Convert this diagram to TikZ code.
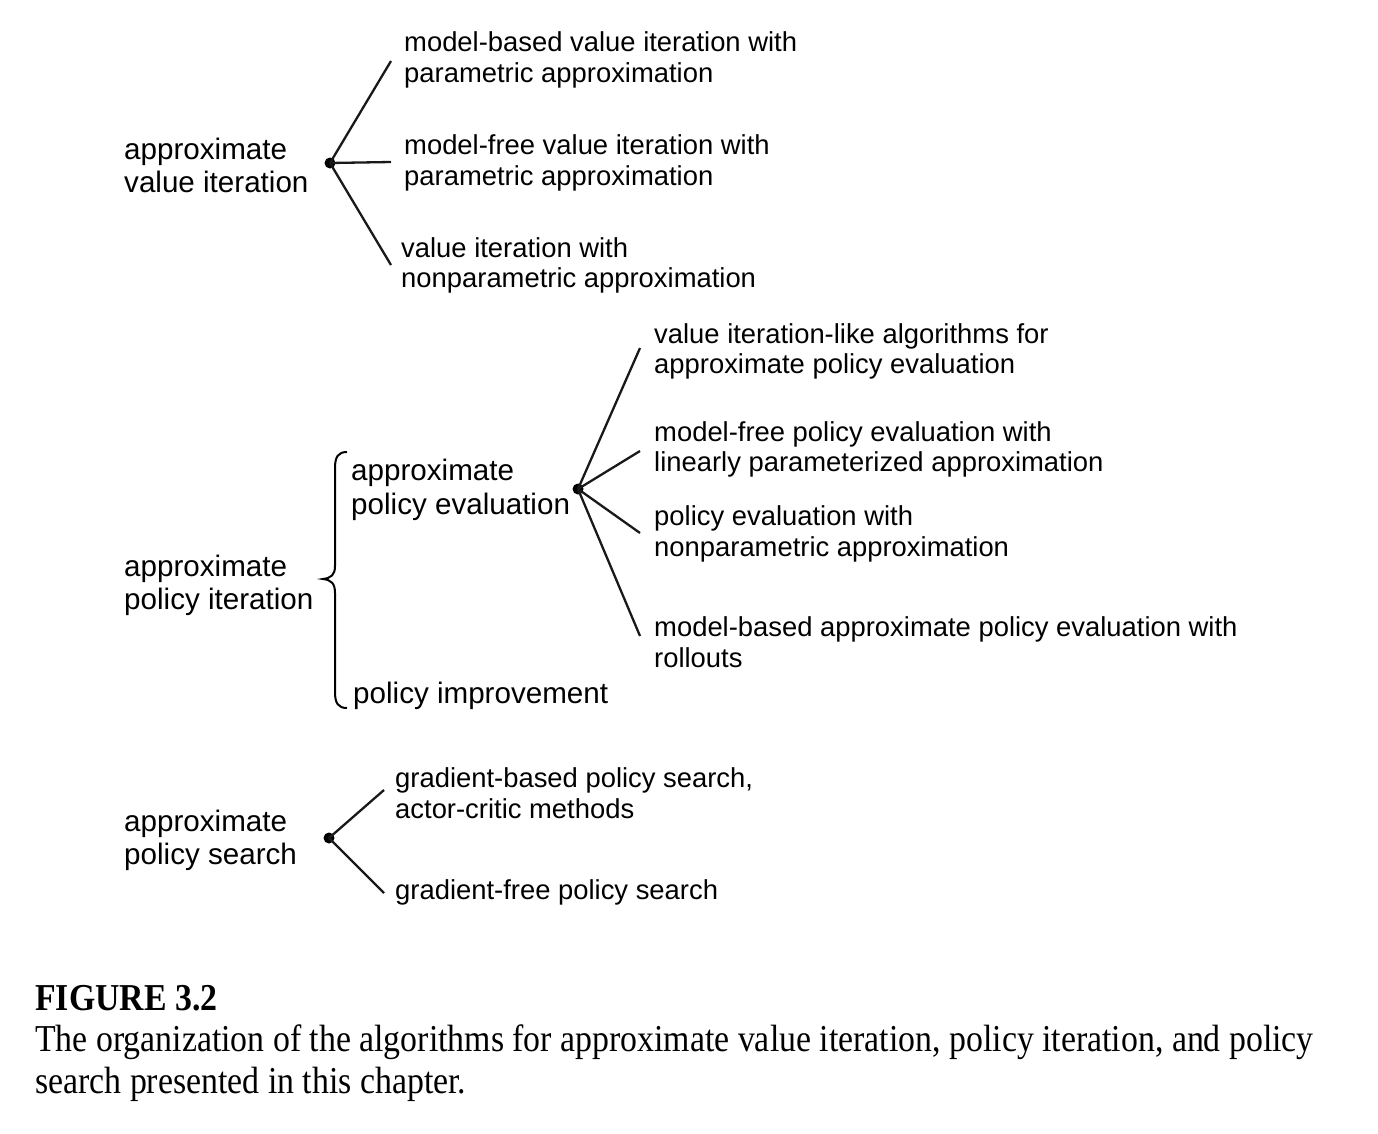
\documentclass[tikz,border=0pt]{standalone}
\usepackage{fontspec}
\setmainfont{Liberation Sans}
\newfontfamily\capfont[FakeStretch=0.89]{Liberation Serif}
\begin{document}
\begin{tikzpicture}[x=1pt,y=-1pt,
  dot/.style={circle,fill=black,inner sep=0pt,minimum size=11pt},
  branch/.style={line width=2.3pt,draw=black!90},
  headlbl/.style={anchor=west,inner sep=0pt,align=left,font=\fontsize{29.6}{33}\selectfont},
  leaflbl/.style={anchor=west,inner sep=0pt,align=left,font=\fontsize{27.4}{30.5}\selectfont},
  captitle/.style={anchor=west,inner sep=0pt,font=\capfont\bfseries\fontsize{38}{42}\selectfont},
  captext/.style={anchor=west,inner sep=0pt,align=left,font=\capfont\fontsize{38}{42}\selectfont}]
\useasboundingbox (0,0) rectangle (1378,1133);

% approximate value iteration
\node[headlbl] (avi) at (124,165) {approximate\\value iteration};
\node[dot] (d1) at (330,163) {};
\coordinate (e1a) at (391,61);
\coordinate (e1b) at (391,162);
\coordinate (e1c) at (391,265);
\node[leaflbl] (v1) at (404,60) {model-based value iteration with\\parametric approximation};
\node[leaflbl] (v2) at (404,163) {model-free value iteration with\\parametric approximation};
\node[leaflbl] (v3) at (401,265.5) {value iteration with\\nonparametric approximation};
\draw[branch] (d1.center) -- (e1a);
\draw[branch] (d1.center) -- (e1b);
\draw[branch] (d1.center) -- (e1c);

% approximate policy iteration
\node[headlbl] (api) at (124,585) {approximate\\policy iteration};
\draw[line width=2pt] (347,452) .. controls (338,452) and (335,457) .. (335,468)
  -- (335,566) .. controls (335,575) and (331,578) .. (323,579)
  .. controls (331,580) and (335,583) .. (335,593)
  -- (335,692) .. controls (335,703) and (338,708) .. (347,708);
\node[headlbl,font=\fontsize{29.6}{34}\selectfont] (ape) at (351,490) {approximate\\policy evaluation};
\node[headlbl] (pim) at (353,696) {policy improvement};
\node[dot] (d2) at (578,489) {};
\coordinate (e2a) at (640,348);
\coordinate (e2b) at (640,451);
\coordinate (e2c) at (640,533);
\coordinate (e2d) at (640,636);
\node[leaflbl] (p1) at (654,351.5) {value iteration-like algorithms for\\approximate policy evaluation};
\node[leaflbl] (p2) at (654,449.5) {model-free policy evaluation with\\linearly parameterized approximation};
\node[leaflbl] (p3) at (654,534) {policy evaluation with\\nonparametric approximation};
\node[leaflbl] (p4) at (654,642) {model-based approximate policy evaluation with\\rollouts};
\draw[branch] (d2.center) -- (e2a);
\draw[branch] (d2.center) -- (e2b);
\draw[branch] (d2.center) -- (e2c);
\draw[branch] (d2.center) -- (e2d);

% approximate policy search
\node[headlbl] (aps) at (124,840) {approximate\\policy search};
\node[dot] (d3) at (329,838) {};
\coordinate (e3a) at (384,790);
\coordinate (e3b) at (384,893);
\node[leaflbl] (s1) at (395,793) {gradient-based policy search,\\actor-critic methods};
\node[leaflbl] (s2) at (395,892.5) {gradient-free policy search};
\draw[branch] (d3.center) -- (e3a);
\draw[branch] (d3.center) -- (e3b);

% caption
\node[captitle] (ftitle) at (35,998) {FIGURE 3.2};
\node[captext] (ftext) at (35,1063) {The organization of the algorithms for approximate value iteration, policy iteration, and policy\\search presented in this chapter.};
\end{tikzpicture}
\end{document}
